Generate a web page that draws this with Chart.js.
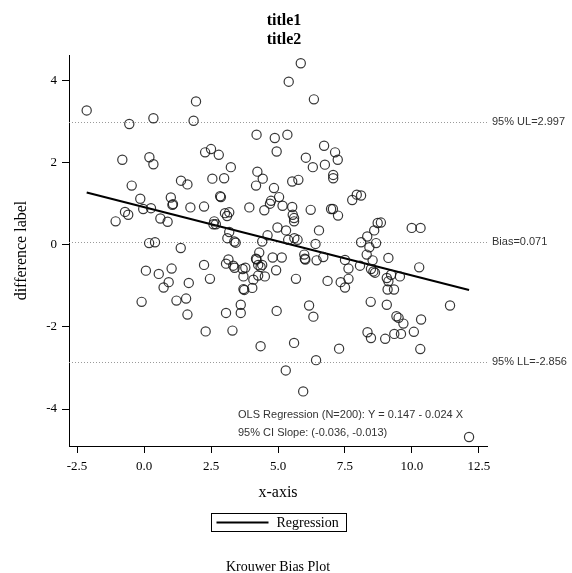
<!DOCTYPE html>
<html>
<head>
<meta charset="utf-8">
<script src="https://cdn.jsdelivr.net/npm/chart.js@4.4.0/dist/chart.umd.min.js"></script>
<style>
html, body { margin: 0; padding: 0; background: #fff; }
#wrap { width: 572px; height: 573px; }
</style>
</head>
<body>
<div id="wrap"><canvas id="biasChart" width="572" height="573"></canvas></div>
<script>
// values
var xValues = [
    -2.14, -0.55, 0.35, 1.94, 1.85, 2.28, -0.81, 0.20, 0.35, 1.38,
    1.62, -0.46, 5.85, 5.40, 6.34, 4.20, 4.88, 5.35, 4.95, 6.72,
    7.13, 7.23, 6.04, 6.30, 6.75, 2.50, 2.79, 3.24, 2.55, 2.99,
    4.23, 4.43, 4.18, 5.53, 5.76, 7.06, 7.06, 4.85, -0.14, 1.00,
    1.06, 1.08, 1.73, 2.24, -0.03, 0.26, -0.71, -0.59, -1.06, 0.61,
    0.88, 0.19, 0.41, 1.37, 2.24, 0.07, 0.55, 1.03, 0.92, 0.73,
    1.67, -0.09, 1.21, 1.57, 1.62, 2.84, 2.87, 5.04, 4.74, 4.70,
    4.49, 3.93, 5.17, 5.53, 5.55, 5.60, 5.60, 6.22, 6.98, 7.05,
    7.24, 3.02, 3.18, 3.10, 2.62, 2.59, 2.68, 4.98, 5.30, 6.53,
    3.18, 3.11, 3.37, 3.42, 4.61, 4.41, 5.38, 5.61, 5.73, 6.40,
    3.15, 3.06, 3.33, 3.38, 3.68, 3.78, 4.30, 4.18, 4.20, 4.26,
    4.35, 4.41, 4.80, 5.14, 5.98, 6.00, 6.02, 6.44, 6.69, 4.93,
    2.46, 3.71, 4.08, 4.26, 4.51, 5.67, 6.85, 7.34, 3.71, 3.74,
    4.04, 7.50, 3.61, 3.06, 3.61, 4.95, 6.16, 6.32, 7.63, 7.63,
    7.50, 7.77, 7.94, 8.10, 8.72, 8.84, 8.59, 8.33, 8.10, 8.66,
    8.41, 8.31, 8.53, 9.12, 9.99, 10.32, 10.27, 8.06, 8.47, 8.56,
    8.62, 9.06, 9.12, 9.22, 9.55, 9.09, 9.33, 8.46, 9.06, 11.42,
    2.30, 3.30, 4.35, 5.60, 7.28, 6.42, 5.29, 5.94, 9.42, 9.50,
    9.68, 10.34, 8.34, 8.47, 9.00, 9.34, 9.59, 10.07, 10.31, 12.13
];
var yValues = [
    3.27, 2.94, 3.08, 3.49, 3.02, 2.25, 2.07, 2.13, 1.96, 1.56,
    1.47, 1.44, 4.42, 3.97, 3.54, 2.68, 2.60, 2.68, 2.27, 2.41,
    2.25, 2.07, 2.12, 1.89, 1.95, 2.33, 2.19, 1.89, 1.61, 1.62,
    1.78, 1.61, 1.44, 1.54, 1.58, 1.70, 1.62, 1.38, 1.12, 1.15,
    0.97, 0.99, 0.91, 0.93, 0.87, 0.89, 0.80, 0.73, 0.57, 0.64,
    0.56, 0.04, 0.06, -0.08, -0.49, -0.63, -0.71, -0.58, -0.91, -1.04,
    -0.93, -1.39, -1.36, -1.31, -1.70, 1.18, 1.16, 1.16, 1.07, 1.00,
    0.84, 0.91, 0.95, 0.92, 0.73, 0.65, 0.57, 0.85, 0.87, 0.87,
    0.71, 0.77, 0.79, 0.70, 0.57, 0.50, 0.50, 0.42, 0.35, 0.35,
    0.31, 0.16, 0.08, 0.05, 0.23, 0.08, 0.12, 0.16, 0.12, 0.02,
    -0.36, -0.46, -0.51, -0.56, -0.59, -0.56, -0.19, -0.34, -0.36, -0.49,
    -0.54, -0.49, -0.31, -0.31, -0.24, -0.34, -0.36, -0.38, -0.30, -0.62,
    -0.83, -0.77, -0.85, -0.75, -0.77, -0.83, -0.88, -0.91, -1.08, -1.10,
    -1.05, -1.04, -1.46, -1.66, -1.66, -1.61, -1.48, -1.75, -0.58, -0.83,
    -0.37, 1.09, 1.22, 1.20, 0.53, 0.54, 0.35, 0.20, 0.06, 0.04,
    -0.06, -0.24, -0.38, -0.32, 0.41, 0.41, -0.55, -0.51, -0.59, -0.65,
    -0.68, -0.81, -0.89, -0.73, -0.77, -1.09, -1.09, -1.39, -1.46, -1.48,
    -2.11, -2.09, -2.47, -2.39, -2.53, -2.81, -3.06, -3.57, -1.74, -1.78,
    -1.92, -1.82, -2.13, -2.27, -2.29, -2.17, -2.17, -2.12, -2.54, -4.68
];
var regX = [-2.14, 12.13];
var regY = [1.27, -1.10];
var limitValues = [2.997, 0.071, -2.856];
var limitLabels = ['95% UL=2.997', 'Bias=0.071', '95% LL=-2.856'];
var xTicks = [-2.5, 0, 2.5, 5, 7.5, 10, 12.5];
var yTicks = [-4, -2, 0, 2, 4];
var titleLines = ['title1', 'title2'];
var noteLines = ['OLS Regression (N=200): Y = 0.147 - 0.024 X', '95% CI Slope: (-0.036, -0.013)'];
var footerText = 'Krouwer Bias Plot';

var serif = "'Liberation Serif', 'DejaVu Serif', serif";
var sans = "'Liberation Sans', Arial, sans-serif";

var pts = xValues.map((x, i) => ({ x: x, y: yValues[i] }));
var regPts = regX.map((x, i) => ({ x: x, y: regY[i] }));

var decorPlugin = {
    id: 'decor',
    beforeDatasetsDraw(chart) {
        var ctx = chart.ctx, a = chart.chartArea, ys = chart.scales.y;
        ctx.save();
        ctx.strokeStyle = '#9a9a9a';
        ctx.lineWidth = 1;
        ctx.setLineDash([1, 2]);
        limitValues.forEach(v => {
            var py = Math.round(ys.getPixelForValue(v)) + 0.5;
            ctx.beginPath();
            ctx.moveTo(a.left, py);
            ctx.lineTo(a.right, py);
            ctx.stroke();
        });
        ctx.restore();
    },
    afterDraw(chart) {
        var ctx = chart.ctx, a = chart.chartArea, ys = chart.scales.y;
        var cx = (a.left + a.right) / 2;
        ctx.save();
        // labels on the right of the reference lines
        ctx.fillStyle = '#333';
        ctx.font = '11px ' + sans;
        ctx.textAlign = 'left';
        ctx.textBaseline = 'middle';
        limitValues.forEach((v, i) => {
            ctx.fillText(limitLabels[i], a.right + 5, ys.getPixelForValue(v));
        });
        // regression note
        noteLines.forEach((t, i) => {
            ctx.fillText(t, a.left + 169, a.bottom - 31 + i * 18);
        });
        // titles
        ctx.fillStyle = '#000';
        ctx.textAlign = 'center';
        ctx.font = 'bold 16px ' + serif;
        titleLines.forEach((t, i) => {
            ctx.fillText(t, 284, 21 + i * 19);
        });
        // legend box
        var lw = 135, lh = 18, lx = cx - lw / 2, ly = a.bottom + 67;
        ctx.strokeStyle = '#000';
        ctx.lineWidth = 1;
        ctx.strokeRect(Math.round(lx) + 0.5, Math.round(ly) + 0.5, lw, lh);
        ctx.lineWidth = 2;
        ctx.beginPath();
        ctx.moveTo(lx + 6, ly + lh / 2 + 0.5);
        ctx.lineTo(lx + 58, ly + lh / 2 + 0.5);
        ctx.stroke();
        ctx.font = '14px ' + serif;
        ctx.textAlign = 'left';
        ctx.fillText(chart.data.datasets[1].label, lx + 66, ly + lh / 2 + 1);
        // footer
        ctx.textAlign = 'center';
        ctx.fillText(footerText, cx, a.bottom + 121);
        ctx.restore();
    }
};

var ctx = document.getElementById('biasChart').getContext('2d');

var myChart = new Chart(ctx, {
    type: 'scatter',
    data: {
        datasets: [
            {
                label: 'Difference',
                data: pts,
                pointStyle: 'circle',
                pointRadius: 4.6,
                pointBorderWidth: 1.2,
                pointBorderColor: 'rgba(20, 20, 20, 0.85)',
                pointBackgroundColor: 'rgba(0, 0, 0, 0)',
                showLine: false
            },
            {
                label: 'Regression',
                data: regPts,
                showLine: true,
                borderColor: '#000',
                borderWidth: 2,
                pointRadius: 0,
                fill: false
            }
        ]
    },
    options: {
        responsive: false,
        animation: false,
        layout: {
            padding: {
                left: 0,
                right: 85,
                top: 55,
                bottom: 70
            }
        },
        plugins: {
            legend: { display: false },
            title: { display: false },
            tooltip: { enabled: false }
        },
        scales: {
            x: {
                type: 'linear',
                min: -2.8,
                max: 12.8,
                afterBuildTicks: s => { s.ticks = xTicks.map(v => ({ value: v })); },
                afterFit: s => { s.height = 57; },
                ticks: {
                    padding: 6,
                    color: '#000',
                    font: { family: serif, size: 13 },
                    maxRotation: 0,
                    callback: v => v.toFixed(1)
                },
                grid: {
                    drawOnChartArea: false,
                    drawTicks: true,
                    tickLength: 7,
                    color: '#000'
                },
                border: { color: '#000', width: 1 },
                title: {
                    display: true,
                    text: 'x-axis',
                    color: '#000',
                    font: { family: serif, size: 16 },
                    padding: { top: 4, bottom: 1 }
                }
            },
            y: {
                type: 'linear',
                min: -4.9,
                max: 4.62,
                afterBuildTicks: s => { s.ticks = yTicks.map(v => ({ value: v })); },
                afterFit: s => { s.width = 69; },
                ticks: {
                    padding: 5,
                    color: '#000',
                    font: { family: serif, size: 13 }
                },
                grid: {
                    drawOnChartArea: false,
                    drawTicks: true,
                    tickLength: 7,
                    color: '#000'
                },
                border: { color: '#000', width: 1 },
                title: {
                    display: true,
                    text: 'difference label',
                    color: '#000',
                    font: { family: serif, size: 16 },
                    padding: { top: 12, bottom: 4 }
                }
            }
        }
    },
    plugins: [decorPlugin]
});
</script>
</body>
</html>
